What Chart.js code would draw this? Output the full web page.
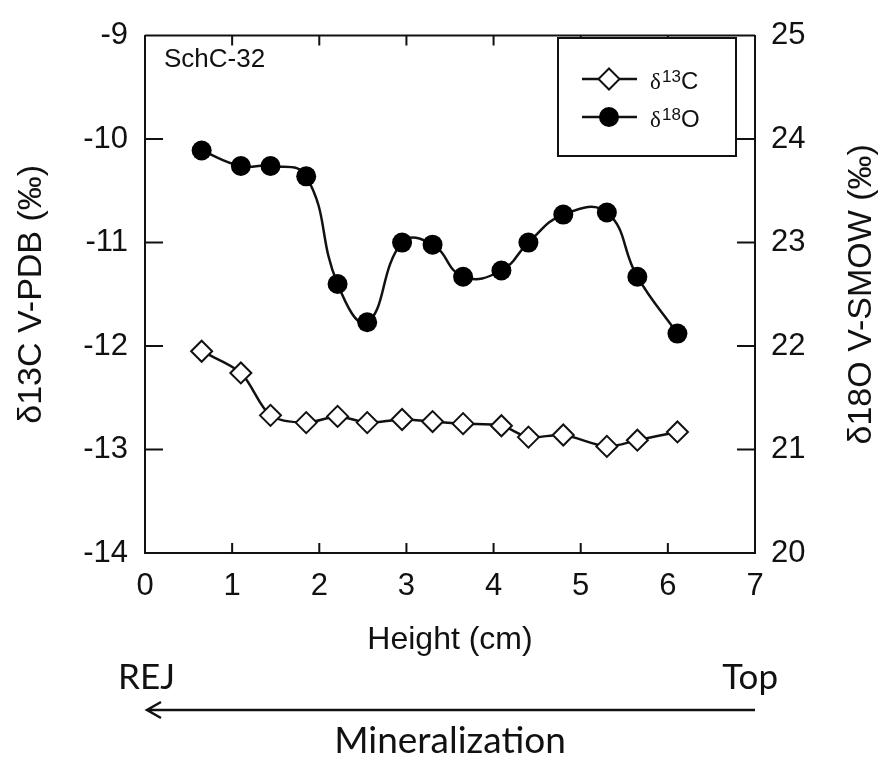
<!DOCTYPE html>
<html>
<head>
<meta charset="utf-8">
<script src="https://cdn.jsdelivr.net/npm/chart.js@4.4.0/dist/chart.umd.min.js"></script>
<style>
  html, body { margin: 0; padding: 0; background: #fff; }
  #wrap { width: 884px; height: 763px; }
</style>
</head>
<body>
<div id="wrap"><canvas id="isoChart" width="884" height="763"></canvas></div>
<script>
// Sample heights (cm) and isotope values
const heights = [0.65, 1.10, 1.44, 1.85, 2.21, 2.55, 2.95, 3.30, 3.65, 4.09, 4.40, 4.80, 5.30, 5.65, 6.11];
const d13C = [-12.05, -12.26, -12.67, -12.74, -12.68, -12.74, -12.71, -12.73, -12.75, -12.77, -12.88, -12.86, -12.97, -12.91, -12.83];
const d18O = [23.89, 23.74, 23.74, 23.64, 22.60, 22.23, 23.00, 22.98, 22.67, 22.73, 23.00, 23.27, 23.29, 22.67, 22.12];
const xTicks = [0, 1, 2, 3, 4, 5, 6, 7];
const leftTicks = [-14, -13, -12, -11, -10, -9];
const rightTicks = [20, 21, 22, 23, 24, 25];

const INK = '#111';
const SANS = '"Liberation Sans", Arial, sans-serif';
const CALIBRI = 'Lato, "Open Sans", sans-serif';

/** Draws the frame, inner tick marks, legend and the annotations below the axis. */
const framePlugin = {
    id: 'frame',
    afterDraw(chart) {
        const ctx = chart.ctx;
        const a = chart.chartArea;
        const sx = chart.scales.x, yl = chart.scales.y, yr = chart.scales.y2;
        const midY = (a.top + a.bottom) / 2;
        ctx.save();
        ctx.strokeStyle = INK;
        ctx.fillStyle = INK;
        ctx.lineWidth = 2;

        // top border and inner ticks
        ctx.beginPath();
        ctx.moveTo(a.left, a.top);
        ctx.lineTo(a.right, a.top);
        xTicks.slice(1, -1).forEach(v => {
            const px = sx.getPixelForValue(v);
            ctx.moveTo(px, a.bottom); ctx.lineTo(px, a.bottom - 10);
            ctx.moveTo(px, a.top); ctx.lineTo(px, a.top + 10);
        });
        leftTicks.slice(1, -1).forEach(v => {
            const py = yl.getPixelForValue(v);
            ctx.moveTo(a.left, py); ctx.lineTo(a.left + 18, py);
        });
        rightTicks.slice(1, -1).forEach(v => {
            const py = yr.getPixelForValue(v);
            ctx.moveTo(a.right, py); ctx.lineTo(a.right - 18, py);
        });
        ctx.stroke();

        // sample name
        ctx.font = '26px ' + SANS;
        ctx.textAlign = 'left';
        ctx.textBaseline = 'alphabetic';
        ctx.fillText('SchC-32', 164, 67);

        // legend box
        ctx.fillStyle = '#fff';
        ctx.fillRect(558, 38, 178, 118);
        ctx.strokeRect(558, 38, 178, 118);
        const rows = [
            {y: 79, sup: '13', base: 'C', filled: false},
            {y: 117, sup: '18', base: 'O', filled: true}
        ];
        rows.forEach(r => {
            ctx.lineWidth = 2.5;
            ctx.beginPath();
            ctx.moveTo(582, r.y); ctx.lineTo(637, r.y);
            ctx.stroke();
            ctx.lineWidth = 2;
            ctx.beginPath();
            if (r.filled) {
                ctx.arc(609, r.y, 10, 0, Math.PI * 2);
                ctx.fillStyle = '#000';
                ctx.fill();
            } else {
                ctx.moveTo(609, r.y - 10.5); ctx.lineTo(619.5, r.y);
                ctx.lineTo(609, r.y + 10.5); ctx.lineTo(598.5, r.y);
                ctx.closePath();
                ctx.fillStyle = '#fff';
                ctx.fill();
                ctx.stroke();
            }
            ctx.fillStyle = INK;
            ctx.font = '23px "Liberation Serif", serif';
            ctx.fillText('δ', 650, r.y + 10);
            ctx.font = '17px ' + SANS;
            ctx.fillText(r.sup, 662, r.y + 3);
            ctx.font = '24px ' + SANS;
            ctx.fillText(r.base, 681, r.y + 10);
        });

        // y axis titles, reading bottom to top
        ctx.font = '34px ' + SANS;
        ctx.textAlign = 'center';
        ctx.textBaseline = 'middle';
        ctx.save();
        ctx.translate(32, midY);
        ctx.rotate(-Math.PI / 2);
        ctx.fillText('δ13C V-PDB (‰)', 0, 0);
        ctx.restore();
        ctx.save();
        ctx.translate(862, midY);
        ctx.rotate(-Math.PI / 2);
        ctx.fillText('δ18O V-SMOW (‰)', 0, 0);
        ctx.restore();

        // REJ / Top and the mineralization arrow
        ctx.font = '35px ' + CALIBRI;
        ctx.textBaseline = 'alphabetic';
        ctx.textAlign = 'left';
        ctx.fillText('REJ', 118, 689);
        ctx.textAlign = 'right';
        ctx.fillText('Top', 778, 689);

        ctx.lineWidth = 2.5;
        ctx.beginPath();
        ctx.moveTo(a.right, 710); ctx.lineTo(a.left + 2, 710);
        ctx.moveTo(a.left + 16, 702); ctx.lineTo(a.left + 2, 710); ctx.lineTo(a.left + 16, 718);
        ctx.stroke();

        ctx.font = '37px ' + CALIBRI;
        ctx.textAlign = 'center';
        ctx.fillText('Mineralization', (a.left + a.right) / 2, 753);
        ctx.restore();
    }
};

const tickFont = {family: SANS, size: 31};

const chart = new Chart(document.getElementById('isoChart'), {
    type: 'line',
    data: {
        datasets: [{
            label: 'δ13C',
            data: heights.map((h, i) => ({x: h, y: d13C[i]})),
            yAxisID: 'y',
            borderColor: INK,
            borderWidth: 2.5,
            pointStyle: 'rectRot',
            pointRadius: 10.5,
            pointBackgroundColor: '#fff',
            pointBorderColor: INK,
            pointBorderWidth: 2,
            tension: 0.3,
            fill: false
        }, {
            label: 'δ18O',
            data: heights.map((h, i) => ({x: h, y: d18O[i]})),
            yAxisID: 'y2',
            borderColor: INK,
            borderWidth: 2.5,
            pointStyle: 'circle',
            pointRadius: 10,
            pointBackgroundColor: '#000',
            pointBorderColor: '#000',
            pointBorderWidth: 0,
            tension: 0.45,
            fill: false
        }]
    },
    options: {
        responsive: false,
        animation: false,
        layout: {
            padding: {left: 0, right: 0, top: 23, bottom: 0}
        },
        plugins: {
            legend: {display: false},
            tooltip: {enabled: false}
        },
        scales: {
            x: {
                type: 'linear',
                min: 0,
                max: 7,
                afterBuildTicks: s => { s.ticks = xTicks.map(v => ({value: v})); },
                afterFit: s => { s.height = 210; },
                grid: {display: false, drawTicks: false},
                border: {color: INK, width: 2},
                ticks: {
                    color: INK,
                    padding: 15,
                    maxRotation: 0,
                    font: tickFont
                },
                title: {
                    display: true,
                    text: 'Height (cm)',
                    color: INK,
                    font: {family: SANS, size: 32, lineHeight: 1},
                    padding: {top: 0, bottom: 107}
                }
            },
            y: {
                position: 'left',
                min: -14,
                max: -9,
                afterBuildTicks: s => { s.ticks = leftTicks.map(v => ({value: v})); },
                afterFit: s => { s.width = 145; },
                grid: {display: false, drawTicks: false},
                border: {color: INK, width: 2},
                ticks: {
                    color: INK,
                    padding: 17,
                    font: tickFont
                }
            },
            y2: {
                position: 'right',
                min: 20,
                max: 25,
                afterBuildTicks: s => { s.ticks = rightTicks.map(v => ({value: v})); },
                afterFit: s => { s.width = 129; },
                grid: {display: false, drawTicks: false},
                border: {color: INK, width: 2},
                ticks: {
                    color: INK,
                    padding: 16,
                    font: tickFont
                }
            }
        }
    },
    plugins: [framePlugin]
});
</script>
</body>
</html>
